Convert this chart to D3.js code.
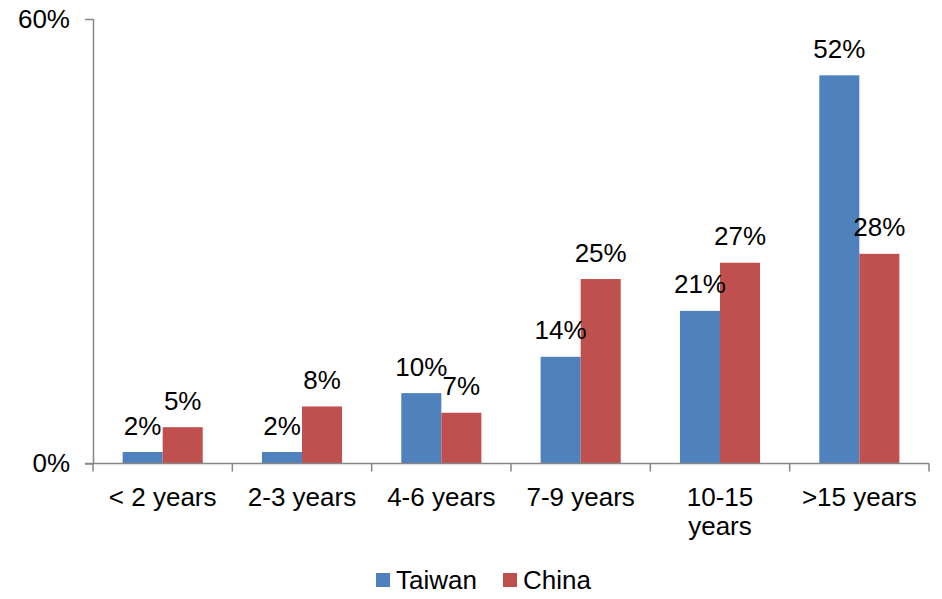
<!DOCTYPE html>
<html>
<head>
<meta charset="utf-8">
<script src="https://cdn.jsdelivr.net/npm/d3@7"></script>
<style>
  html, body { margin: 0; padding: 0; background: #fff; }
  svg { display: block; font-family: Arial, "Liberation Sans", sans-serif; }
</style>
</head>
<body>
<svg id="chart" width="942" height="599"></svg>
<script>
// Years of work experience, share of respondents (%)
const categories = ["< 2 years", "2-3 years", "4-6 years", "7-9 years", "10-15 years", ">15 years"];
const seriesNames = ["Taiwan", "China"];
const taiwanValues = [1.55, 1.55, 9.5, 14.4, 20.6, 52.4];
const chinaValues = [4.9, 7.7, 6.85, 24.9, 27.1, 28.3];
const yTickValues = [0, 60];
const colors = ["#4F81BD", "#C0504D"];

const svg = d3.select("#chart");
const plotLeft = 93, plotRight = 929, plotTop = 19, plotBottom = 463.5;
const fontSize = 26;
const axisColor = "#868686";

const x = d3.scaleBand().domain(categories).range([plotLeft, plotRight]).paddingInner(0).paddingOuter(0);
const xs = d3.scaleBand().domain(seriesNames).range([0, x.bandwidth()]).paddingInner(0).paddingOuter(0.74);
const y = d3.scaleLinear().domain([0, 60]).range([plotBottom, plotTop]);

const rows = categories.map((c, i) => ({ cat: c, vals: [taiwanValues[i], chinaValues[i]] }));

// Bars
const groups = svg.append("g").selectAll("g").data(rows).join("g")
  .attr("transform", d => `translate(${x(d.cat)},0)`);

groups.selectAll("rect")
  .data(d => d.vals.map((v, j) => ({ name: seriesNames[j], v, j })))
  .join("rect")
  .attr("x", d => xs(d.name))
  .attr("width", xs.bandwidth())
  .attr("y", d => y(d.v))
  .attr("height", d => y(0) - y(d.v))
  .attr("fill", d => colors[d.j]);

// Value labels
const fmt = d3.format(".0f");
groups.selectAll("text.val")
  .data(d => d.vals.map((v, j) => ({ name: seriesNames[j], v, j })))
  .join("text")
  .attr("class", "val")
  .attr("x", d => xs(d.name) + xs.bandwidth() / 2)
  .attr("y", d => y(d.v) - 17.5)
  .attr("text-anchor", "middle")
  .attr("font-size", fontSize)
  .attr("fill", "#000")
  .text(d => fmt(d.v) + "%");

// Y axis
const yAxis = svg.append("g").attr("transform", `translate(${plotLeft},0)`)
  .call(d3.axisLeft(y).tickValues(yTickValues).tickSize(8).tickPadding(15).tickFormat(d => d + "%"));
yAxis.select(".domain").attr("stroke", axisColor).attr("stroke-width", 1.5)
  .attr("d", `M0.5,${plotTop}V${plotBottom}`);
yAxis.selectAll(".tick line").attr("stroke", axisColor).attr("stroke-width", 1.5);
yAxis.selectAll(".tick text").attr("font-size", fontSize).attr("fill", "#000")
  .attr("font-family", "Arial, 'Liberation Sans', sans-serif");

// X axis baseline with ticks at category boundaries
const xAxis = svg.append("g").attr("transform", `translate(0,${plotBottom})`);
xAxis.append("line").attr("x1", plotLeft - 8).attr("x2", plotRight).attr("y1", 0).attr("y2", 0)
  .attr("stroke", axisColor).attr("stroke-width", 1.5);
const edges = categories.map(c => x(c)).concat([x.range()[1]]);
xAxis.selectAll("line.edge").data(edges).join("line")
  .attr("class", "edge")
  .attr("x1", d => d).attr("x2", d => d).attr("y1", 0).attr("y2", 8)
  .attr("stroke", axisColor).attr("stroke-width", 1.5);

// Category labels, wrapped when wider than the band
const catLabels = xAxis.selectAll("text.cat").data(categories).join("text")
  .attr("class", "cat")
  .attr("x", d => x(d) + x.bandwidth() / 2)
  .attr("y", 42)
  .attr("text-anchor", "middle")
  .attr("font-size", fontSize)
  .attr("fill", "#000")
  .text(d => d);

catLabels.each(function(d) {
  const t = d3.select(this);
  if (this.getComputedTextLength() > x.bandwidth() - 8) {
    const words = d.split(" ");
    t.text(null);
    words.forEach((w, k) => {
      t.append("tspan").attr("x", x(d) + x.bandwidth() / 2).attr("dy", k === 0 ? 0 : 29).text(w);
    });
  }
});

// Legend
const legend = svg.append("g");
const legendX = [376, 503];
seriesNames.forEach((n, j) => {
  legend.append("rect").attr("x", legendX[j]).attr("y", 573).attr("width", 14).attr("height", 14)
    .attr("fill", colors[j]);
  legend.append("text").attr("x", legendX[j] + 20).attr("y", 589)
    .attr("font-size", fontSize).attr("fill", "#000").text(n);
});
</script>
</body>
</html>
